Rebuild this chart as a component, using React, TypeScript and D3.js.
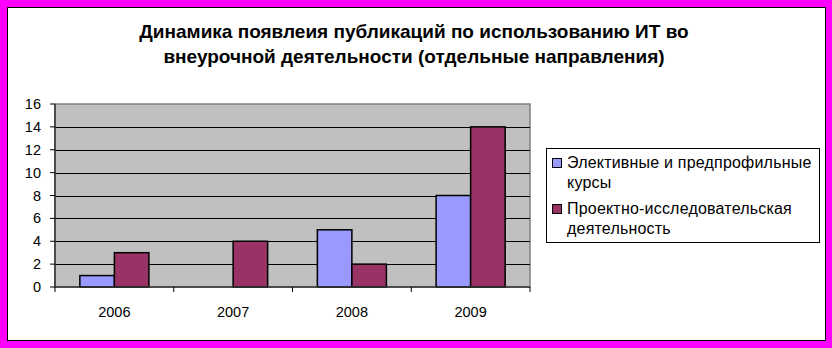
import React from "react";
import * as d3 from "d3";

const categories = ["2006", "2007", "2008", "2009"];
const seriesNames = [
  ["Элективные и предпрофильные", "курсы"],
  ["Проектно-исследовательская", "деятельность"],
];
const seriesA = [1, 0, 5, 8];
const seriesB = [3, 4, 2, 14];
const yTicks = [0, 2, 4, 6, 8, 10, 12, 14, 16];
const titleLines = [
  "Динамика появлеия публикаций по использованию ИТ во",
  "внеурочной деятельности (отдельные направления)",
];
const colors = ["#9999FF", "#993366"];

export default function App() {
  const W = 832, H = 348;
  const plot = { x0: 55, x1: 530, y0: 104, y1: 287 };
  const x = d3.scaleBand<string>().domain(categories).range([plot.x0, plot.x1]).paddingInner(0).paddingOuter(0);
  const inner = d3.scaleBand<number>().domain([0, 1]).range([0, x.bandwidth()]).paddingInner(0).paddingOuter(0.72);
  const y = d3.scaleLinear().domain([0, 16]).range([plot.y1, plot.y0]);
  const series = [seriesA, seriesB];
  const font = "'Liberation Sans', Arial, sans-serif";
  const boundaries = [...categories.map((c) => x(c)!), plot.x1];

  return (
    <svg width={W} height={H} style={{ position: "absolute", left: 0, top: 0 }} fontFamily={font}>
      <rect x={0} y={0} width={W} height={H} fill="#FF00FF" />
      <rect x={7.5} y={7.5} width={818} height={333} fill="#FFFFFF" stroke="#000" strokeWidth={1} />
      {titleLines.map((t, i) => (
        <text key={i} x={414} y={38 + i * 25} textAnchor="middle" fontSize={19} fontWeight="bold" fill="#000">
          {t}
        </text>
      ))}
      <rect x={plot.x0} y={plot.y0} width={plot.x1 - plot.x0} height={plot.y1 - plot.y0} fill="#C0C0C0" stroke="#808080" strokeWidth={1.5} />
      {yTicks.filter((v) => v > 0 && v < 16).map((v) => (
        <line key={v} x1={plot.x0} x2={plot.x1} y1={Math.round(y(v)) + 0.5} y2={Math.round(y(v)) + 0.5} stroke="#000" strokeWidth={1} />
      ))}
      {categories.map((c, ci) =>
        series.map((s, si) => (
          <rect
            key={c + si}
            x={x(c)! + inner(si)!}
            y={y(s[ci])}
            width={inner.bandwidth()}
            height={plot.y1 - y(s[ci])}
            fill={colors[si]}
            stroke="#000"
            strokeWidth={1.5}
            style={{ display: s[ci] === 0 ? "none" : undefined }}
          />
        ))
      )}
      <line x1={plot.x0} x2={plot.x0} y1={plot.y0} y2={plot.y1} stroke="#333" strokeWidth={1.5} />
      <line x1={plot.x0} x2={plot.x1} y1={plot.y1} y2={plot.y1} stroke="#333" strokeWidth={1.5} />
      {yTicks.map((v) => (
        <g key={v}>
          <line x1={plot.x0 - 5} x2={plot.x0} y1={y(v)} y2={y(v)} stroke="#000" />
          <text x={41} y={y(v) + 5} textAnchor="end" fontSize={14.5} fill="#000">
            {v}
          </text>
        </g>
      ))}
      {boundaries.map((b, i) => (
        <line key={i} x1={b} x2={b} y1={plot.y1} y2={plot.y1 + 5} stroke="#000" />
      ))}
      {categories.map((c) => (
        <text key={c} x={x(c)! + x.bandwidth() / 2} y={317} textAnchor="middle" fontSize={14.5} fill="#000">
          {c}
        </text>
      ))}
      <rect x={546.5} y={148.5} width={273} height={94} fill="#FFFFFF" stroke="#000" strokeWidth={1} />
      {seriesNames.map((lines, si) => (
        <g key={si}>
          <rect x={552.5} y={158.5 + si * 46} width={9} height={9} fill={colors[si]} stroke="#000" strokeWidth={1} />
          {lines.map((l, li) => (
            <text key={li} x={567} y={168 + si * 46 + li * 20} fontSize={16} letterSpacing={0.2} fill="#000">
              {l}
            </text>
          ))}
        </g>
      ))}
    </svg>
  );
}
